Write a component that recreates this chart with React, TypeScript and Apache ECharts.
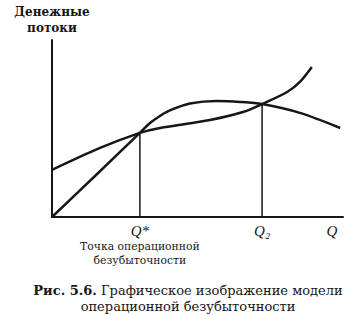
import React, { useEffect, useRef } from "react";
import * as echarts from "echarts";

// Volume Q (x) and cash flow (y) (0..100 units on both axes)
const costQ = [0, 16.5, 30.2, 37.1, 54.3, 65.6, 72.2, 80.8, 85.2, 89.3];
const costV = [26.6, 39.0, 47.5, 50.3, 54.8, 59.3, 63.8, 70.6, 76.3, 84.7];
const revenueQ = [0, 15.5, 30.2, 33.7, 37.1, 40.5, 47.4, 56.7, 64.6, 72.2, 85.2, 99.0];
const revenueV = [0, 24.3, 47.5, 53.1, 57.1, 60.2, 64.1, 65.5, 65.0, 63.8, 58.8, 50.3];
const markQ = [30.2, 72.2];
const markV = [47.5, 63.8];
const tickValues = [30.2, 72.2, 96.2];
const tickLabels = ["Q*", "Q₂", "Q"];
const yAxisTitle = "Денежные\nпотоки";
const breakEvenNote = ["Точка операционной", "безубыточности"];
const captionBold = "Рис. 5.6.";
const captionLine1 = " Графическое изображение модели";
const captionLine2 = "операционной безубыточности";

const INK = "#161616";
const SERIF = "'Liberation Serif', 'Times New Roman', serif";
const CYR = "'DejaVu Serif', serif";

export default function App() {
  const ref = useRef<HTMLDivElement>(null);
  useEffect(() => {
    document.body.style.margin = "0";
    if (!ref.current) return;
    const chart = echarts.init(ref.current, null, { renderer: "svg" });
    const zip = (a: number[], b: number[]) => a.map((v, i) => [v, b[i]]);
    const vertical = markQ.map((q, i) => ({
      type: "line",
      data: [[q, 0], [q, markV[i]]],
      showSymbol: false,
      lineStyle: { color: INK, width: 1.5 },
      silent: true,
    }));
    chart.setOption({
      animation: false,
      backgroundColor: "#ffffff",
      grid: { left: 52, top: 40, width: 291, height: 177 },
      xAxis: {
        type: "value",
        min: 0,
        max: 100,
        splitLine: { show: false },
        axisLine: { show: true, lineStyle: { color: INK, width: 2 } },
        axisTick: { show: false },
        axisLabel: {
          show: true,
          customValues: tickValues,
          margin: 6,
          formatter: (v: number) => {
            const i = tickValues.indexOf(v);
            if (i === 0)
              return `{q|${tickLabels[0]}}\n{s|${breakEvenNote[0]}}\n{s|${breakEvenNote[1]}}`;
            return `{q|${tickLabels[i] ?? ""}}`;
          },
          rich: {
            q: {
              fontFamily: SERIF,
              fontStyle: "italic",
              fontSize: 15,
              color: INK,
              lineHeight: 16,
              align: "center",
            },
            s: {
              fontFamily: CYR,
              fontSize: 10.8,
              color: INK,
              lineHeight: 14,
              align: "center",
            },
          },
        },
      },
      yAxis: {
        type: "value",
        min: 0,
        max: 100,
        name: yAxisTitle,
        nameLocation: "end",
        nameGap: 4,
        nameTextStyle: {
          fontFamily: CYR,
          fontWeight: "bold",
          fontSize: 12,
          color: INK,
          lineHeight: 16,
          align: "center",
        },
        splitLine: { show: false },
        axisLine: { show: true, lineStyle: { color: INK, width: 2 } },
        axisTick: { show: false },
        axisLabel: { show: false },
      },
      series: [
        {
          type: "line",
          data: zip(costQ, costV),
          smooth: 0.3,
          showSymbol: false,
          lineStyle: { color: INK, width: 2.5 },
        },
        {
          type: "line",
          data: zip(revenueQ, revenueV),
          smooth: 0.3,
          showSymbol: false,
          lineStyle: { color: INK, width: 2.5 },
        },
        ...vertical,
      ],
      graphic: [
        {
          type: "text",
          x: 188,
          y: 282,
          style: {
            text: `{b|${captionBold}}${captionLine1}\n${captionLine2}`,
            fontFamily: CYR,
            fontSize: 13,
            fill: INK,
            lineHeight: 16,
            align: "center",
            rich: {
              b: { fontFamily: CYR, fontWeight: "bold", fontSize: 13, fill: INK },
            },
          },
        },
      ],
    });
    return () => chart.dispose();
  }, []);
  return <div ref={ref} style={{ width: 360, height: 315 }} />;
}
